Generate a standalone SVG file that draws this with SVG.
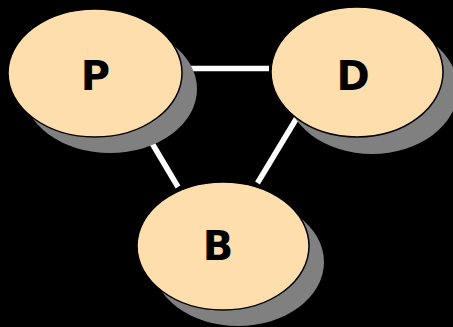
<svg xmlns="http://www.w3.org/2000/svg" width="453" height="327" viewBox="0 0 453 327">
<style>
.edge{stroke:#fff;stroke-width:5.5;fill:none;stroke-linecap:butt}
.shadow{fill:#808080;stroke:none}
.body{fill:#ffdead;stroke:#000;stroke-width:1.5}
.lbl{font-family:"DejaVu Sans",sans-serif;font-weight:bold;font-size:40px;fill:#000;text-anchor:middle}
</style>
<rect width="453" height="327" fill="#000"/>
<g id="connectors">
<line class="edge" x1="150" y1="68.5" x2="269" y2="68.5"/>
<line class="edge" x1="140" y1="123" x2="178" y2="187"/>
<line class="edge" x1="310" y1="96" x2="257.5" y2="183"/>
</g>
<g id="node-P">
<ellipse class="shadow" cx="110" cy="89" rx="87" ry="64"/>
<ellipse class="body" cx="95" cy="73" rx="87" ry="64"/>
<text class="lbl" x="95.5" y="90">P</text>
</g>
<g id="node-D">
<ellipse class="shadow" cx="372" cy="89" rx="86" ry="65"/>
<ellipse class="body" cx="357" cy="72" rx="86" ry="65"/>
<text class="lbl" x="353" y="90">D</text>
</g>
<g id="node-B">
<ellipse class="shadow" cx="238" cy="262" rx="86" ry="64"/>
<ellipse class="body" cx="223" cy="246" rx="86" ry="64"/>
<text class="lbl" x="218" y="260">B</text>
</g>
</svg>
